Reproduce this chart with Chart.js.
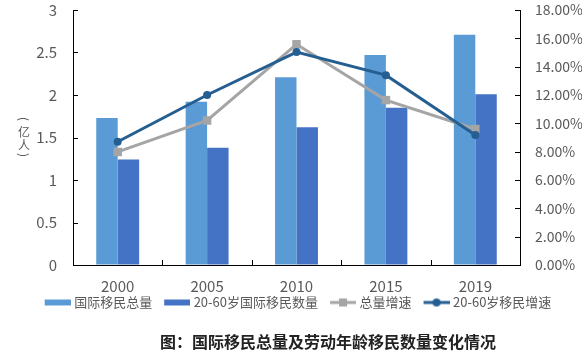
<!DOCTYPE html>
<html>
<head>
<meta charset="utf-8">
<script src="https://cdn.jsdelivr.net/npm/chart.js@4/dist/chart.umd.min.js"></script>
<style>
  html, body { margin: 0; padding: 0; background: #fff; }
  #wrap { position: relative; width: 586px; height: 354px; }
  #caption {
    position: absolute; left: 160px; top: 332px;
    font: bold 16px "Noto Sans CJK SC", sans-serif; line-height: 18px;
    color: #222; white-space: nowrap;
  }
</style>
</head>
<body>
<div id="wrap">
  <canvas id="migrationChart" width="586" height="354"></canvas>
  <div id="caption">图：国际移民总量及劳动年龄移民数量变化情况</div>
</div>
<script>
const years = ["2000", "2005", "2010", "2015", "2019"];
const totalMigrants = [1.73, 1.92, 2.21, 2.47, 2.71];        // 亿人
const workingAgeMigrants = [1.24, 1.38, 1.62, 1.85, 2.01];   // 亿人
const totalGrowth = [7.98, 10.2, 15.58, 11.64, 9.6];         // %
const workingAgeGrowth = [8.7, 12.0, 15.03, 13.4, 9.17];     // %
const seriesNames = ["国际移民总量", "20-60岁国际移民数量", "总量增速", "20-60岁移民增速"];
const leftAxisTitle = "(亿人)";

const FONT = '"Noto Sans CJK SC", "Noto Sans", sans-serif';
const TEXT = "#595959";
const colors = ["#5B9BD5", "#4472C4", "#A5A5A5", "#255E91"];

// little legend pictures: a bar swatch or a line with its marker
function makeSwatch(kind, color) {
  const c = document.createElement("canvas");
  c.width = 39;
  c.height = 12;
  const g = c.getContext("2d");
  if (kind === "bar") {
    g.fillStyle = color;
    g.fillRect(13, 3, 26, 6);
  } else {
    g.strokeStyle = color;
    g.lineWidth = 3;
    g.beginPath();
    g.moveTo(13, 6);
    g.lineTo(39, 6);
    g.stroke();
    g.fillStyle = color;
    if (kind === "square") {
      g.fillRect(22, 2, 8, 8);
    } else {
      g.beginPath();
      g.arc(26, 6, 4, 0, Math.PI * 2);
      g.fill();
    }
  }
  return c;
}
const swatches = [
  makeSwatch("bar", colors[0]),
  makeSwatch("bar", colors[1]),
  makeSwatch("square", colors[2]),
  makeSwatch("circle", colors[3]),
];

// ticks pointing into the plot, and the stacked left axis title
const axisDecor = {
  id: "axisDecor",
  afterDraw(chart) {
    const { ctx, chartArea, scales } = chart;
    ctx.save();
    ctx.strokeStyle = "#000";
    ctx.lineWidth = 1;
    ctx.beginPath();
    scales.y.ticks.forEach((t, i) => {
      const py = Math.round(scales.y.getPixelForTick(i)) + 0.5;
      ctx.moveTo(chartArea.left, py);
      ctx.lineTo(chartArea.left + 5, py);
    });
    scales.y1.ticks.forEach((t, i) => {
      const py = Math.round(scales.y1.getPixelForTick(i)) + 0.5;
      ctx.moveTo(chartArea.right - 5, py);
      ctx.lineTo(chartArea.right, py);
    });
    const half = (scales.x.getPixelForValue(1) - scales.x.getPixelForValue(0)) / 2;
    for (let i = 0; i <= years.length; i++) {
      const px = Math.round(scales.x.getPixelForValue(i) - half) + 0.5;
      ctx.moveTo(px, chartArea.bottom);
      ctx.lineTo(px, chartArea.bottom - 5);
    }
    ctx.stroke();

    // vertical title, brackets turned on their side
    ctx.fillStyle = TEXT;
    ctx.font = "12px " + FONT;
    ctx.textAlign = "center";
    ctx.textBaseline = "middle";
    const ys = [119, 132, 145, 155];
    Array.from(leftAxisTitle).forEach((ch, i) => {
      ctx.save();
      ctx.translate(24, ys[i]);
      if (ch === "(" || ch === ")") ctx.rotate(Math.PI / 2);
      ctx.fillText(ch, 0, 0);
      ctx.restore();
    });
    ctx.restore();
  },
};

const hiddenTicks = (len) => ({
  drawOnChartArea: false,
  drawTicks: true,
  tickLength: len,
  tickColor: "rgba(0,0,0,0)",
});

const ctx = document.getElementById("migrationChart").getContext("2d");

new Chart(ctx, {
  type: "bar",
  data: {
    labels: years,
    datasets: [
      {
        label: seriesNames[0],
        data: totalMigrants,
        backgroundColor: colors[0],
        yAxisID: "y",
        order: 2,
        categoryPercentage: 0.48,
        barPercentage: 1,
      },
      {
        label: seriesNames[1],
        data: workingAgeMigrants,
        backgroundColor: colors[1],
        yAxisID: "y",
        order: 3,
        categoryPercentage: 0.48,
        barPercentage: 1,
      },
      {
        type: "line",
        label: seriesNames[2],
        data: totalGrowth,
        borderColor: colors[2],
        backgroundColor: colors[2],
        borderWidth: 3,
        pointStyle: "rect",
        pointRadius: 6,
        pointBorderWidth: 0,
        tension: 0,
        yAxisID: "y1",
        order: 1,
      },
      {
        type: "line",
        label: seriesNames[3],
        data: workingAgeGrowth,
        borderColor: colors[3],
        backgroundColor: colors[3],
        borderWidth: 3,
        pointStyle: "circle",
        pointRadius: 4,
        pointBorderWidth: 0,
        tension: 0,
        yAxisID: "y1",
        order: 0,
      },
    ],
  },
  options: {
    responsive: false,
    devicePixelRatio: 1,
    animation: false,
    layout: { padding: { left: 4, right: 4, top: 10, bottom: 35 } },
    plugins: {
      tooltip: { enabled: false },
      legend: {
        position: "bottom",
        labels: {
          usePointStyle: true,
          pointStyleWidth: 33,
          padding: 2,
          color: TEXT,
          font: { family: FONT, size: 13, lineHeight: 1 },
          generateLabels: (chart) =>
            chart.data.datasets.map((ds, i) => ({
              text: ds.label,
              pointStyle: swatches[i],
              fillStyle: colors[i],
              strokeStyle: "rgba(0,0,0,0)",
              lineWidth: 0,
              fontColor: TEXT,
              hidden: false,
              datasetIndex: i,
            })),
        },
      },
    },
    scales: {
      x: {
        grid: hiddenTicks(14),
        border: { color: "#000", width: 1 },
        ticks: { color: TEXT, padding: 0, font: { family: FONT, size: 15, lineHeight: 1 } },
      },
      y: {
        position: "left",
        min: 0,
        max: 3,
        grid: hiddenTicks(16),
        border: { color: "#000", width: 1 },
        ticks: {
          stepSize: 0.5,
          color: TEXT,
          padding: 0,
          font: { family: FONT, size: 15 },
          callback: (v) => String(v),
        },
        afterFit: (scale) => { scale.width = 69; },
      },
      y1: {
        position: "right",
        min: 0,
        max: 18,
        grid: hiddenTicks(15),
        border: { color: "#000", width: 1 },
        ticks: {
          stepSize: 2,
          color: TEXT,
          padding: 0,
          font: { family: FONT, size: 14 },
          callback: (v) => v.toFixed(2) + "%",
        },
        afterFit: (scale) => { scale.width = 62; },
      },
    },
  },
  plugins: [axisDecor],
});
</script>
</body>
</html>
